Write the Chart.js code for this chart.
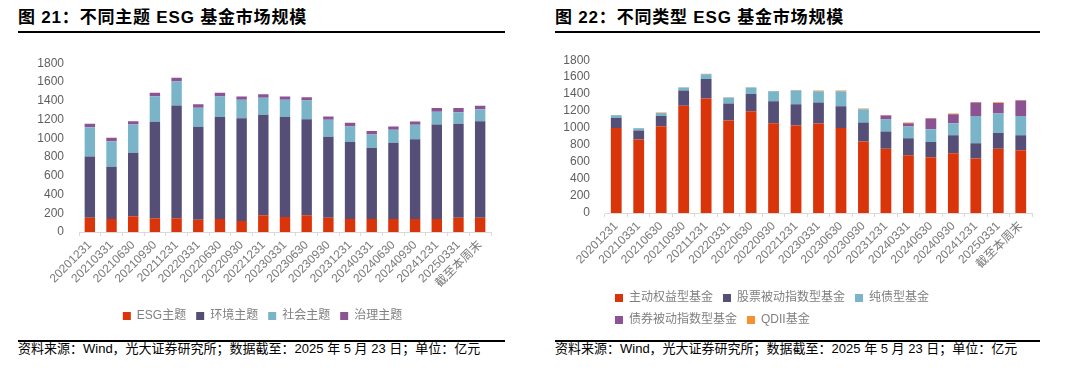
<!DOCTYPE html>
<html>
<head>
<meta charset="utf-8">
<script src="https://cdn.jsdelivr.net/npm/chart.js@4.4.1/dist/chart.umd.min.js"></script>
<style>
  body { margin: 0; width: 1080px; height: 371px; background: #fff; position: relative; overflow: hidden;
         font-family: 'Liberation Sans', 'Noto Sans CJK SC', sans-serif; }
  .title { position: absolute; top: 8px; font-size: 17px; font-weight: bold; line-height: 20px; color: #000; letter-spacing: 0.8px; white-space: nowrap; }
  .rule { position: absolute; background: #000; }
  .src { position: absolute; top: 342px; font-size: 13px; line-height: 14px; color: #000; white-space: nowrap; }
  .box { position: absolute; }
</style>
</head>
<body>

<div class="title" style="left:18px">图 21：不同主题 ESG 基金市场规模</div>
<div class="rule" style="left:18px; top:31px; width:487px; height:2px"></div>
<div class="title" style="left:555px">图 22：不同类型 ESG 基金市场规模</div>
<div class="rule" style="left:555px; top:31px; width:485px; height:2px"></div>

<div class="box" style="left:0; top:41px"><canvas id="themeChart" width="540" height="293"></canvas></div>
<div class="box" style="left:540px; top:38px"><canvas id="typeChart" width="540" height="300"></canvas></div>

<div class="rule" style="left:18px; top:340px; width:487px; height:2px"></div>
<div class="src" style="left:18px">资料来源：Wind，光大证券研究所；数据截至：2025 年 5 月 23 日；单位：亿元</div>
<div class="rule" style="left:555px; top:340px; width:485px; height:2px"></div>
<div class="src" style="left:555px">资料来源：Wind，光大证券研究所；数据截至：2025 年 5 月 23 日；单位：亿元</div>

<script>
// 日期
var periods = ['20201231', '20210331', '20210630', '20210930', '20211231', '20220331', '20220630',
  '20220930', '20221231', '20230331', '20230630', '20230930', '20231231', '20240331', '20240630',
  '20240930', '20241231', '20250331', '截至本周末'];

// 图21 不同主题 (亿元)
var esgTheme = [153, 138, 167, 146, 146, 131, 138, 117, 178, 160, 178, 153, 138, 138, 138, 138, 138, 153, 153];
var envTheme = [653, 558, 678, 1029, 1203, 991, 1087, 1097, 1072, 1068, 1025, 862, 821, 757, 813, 852, 1009, 1001, 1029];
var socialTheme = [312, 273, 302, 273, 256, 202, 220, 195, 181, 181, 199, 181, 166, 145, 139, 153, 135, 124, 128];
var govTheme = [36, 36, 35, 36, 39, 39, 39, 36, 39, 36, 36, 36, 39, 36, 35, 36, 39, 43, 35];

// 图22 不同类型 (亿元)
var activeEquity = [1002, 865, 1022, 1262, 1348, 1089, 1199, 1057, 1030, 1053, 1002, 841, 758, 680, 656, 703, 641, 758, 739];
var stockPassive = [118, 106, 122, 180, 232, 200, 204, 260, 251, 248, 256, 224, 201, 200, 181, 213, 180, 185, 177];
var pureBond = [31, 27, 35, 36, 55, 71, 75, 117, 161, 133, 176, 157, 141, 138, 149, 141, 323, 228, 228];
var bondPassive = [0, 0, 0, 0, 0, 0, 0, 0, 0, 0, 0, 0, 48, 39, 126, 106, 157, 126, 180];
var qdii = [4, 4, 4, 4, 4, 4, 4, 4, 8, 8, 8, 8, 7, 8, 8, 8, 8, 8, 8];

var yTicks = [0, 200, 400, 600, 800, 1000, 1200, 1400, 1600, 1800];

var RED = '#D9340A', NAVY = '#554F78', SKY = '#79B4C9', PLUM = '#8C5393', ORANGE = '#F5922F';

Chart.defaults.font.family = "'Liberation Sans', 'Noto Sans CJK SC', sans-serif";
Chart.defaults.font.size = 12;

function makeScales(yWidth, xHeight) {
  return {
    x: {
      stacked: true,
      grid: { display: true, drawOnChartArea: false, drawTicks: true, tickLength: 4, color: '#d9d9d9' },
      border: { display: true, color: '#d9d9d9', width: 1 },
      ticks: { autoSkip: false, minRotation: 45, maxRotation: 45, padding: 2, color: '#7a7a7a', font: { size: 12 } },
      afterFit: function (s) { s.height = xHeight; }
    },
    y: {
      stacked: true,
      min: 0,
      max: 1800,
      afterBuildTicks: function (s) { s.ticks = yTicks.map(function (v) { return { value: v }; }); },
      grid: { display: false, drawTicks: false },
      border: { display: false },
      ticks: { autoSkip: false, padding: 15, color: '#5f5f5f', font: { size: 12 },
               callback: function (v) { return String(v); } },
      afterFit: function (s) { s.width = yWidth; }
    }
  };
}

function bar(label, data, color) {
  return { label: label, data: data, backgroundColor: color, borderWidth: 0,
           categoryPercentage: 1, barPercentage: 0.48 };
}

new Chart(document.getElementById('themeChart'), {
  type: 'bar',
  data: {
    labels: periods,
    datasets: [
      bar('ESG主题', esgTheme, RED),
      bar('环境主题', envTheme, NAVY),
      bar('社会主题', socialTheme, SKY),
      bar('治理主题', govTheme, PLUM)
    ]
  },
  options: {
    responsive: false,
    animation: false,
    devicePixelRatio: 1,
    layout: { padding: { top: 0, right: 49, bottom: 2, left: 34 } },
    scales: makeScales(45, 68),
    plugins: {
      tooltip: { enabled: false },
      legend: {
        position: 'bottom',
        align: 'center',
        labels: { boxWidth: 8, boxHeight: 8, padding: 10, color: '#7f7f7f', font: { size: 12 } }
      }
    }
  }
});

new Chart(document.getElementById('typeChart'), {
  type: 'bar',
  data: {
    labels: periods,
    datasets: [
      bar('主动权益型基金', activeEquity, RED),
      bar('股票被动指数型基金', stockPassive, NAVY),
      bar('纯债型基金', pureBond, SKY),
      bar('债券被动指数型基金', bondPassive, PLUM),
      bar('QDII基金', qdii, ORANGE)
    ]
  },
  options: {
    responsive: false,
    animation: false,
    devicePixelRatio: 1,
    layout: { padding: { top: 0, right: 48, bottom: 2, left: 0 } },
    scales: makeScales(65, 69),
    plugins: {
      tooltip: { enabled: false },
      legend: {
        position: 'bottom',
        align: 'start',
        fullSize: false,
        labels: { boxWidth: 8, boxHeight: 8, padding: 10, color: '#7f7f7f', font: { size: 12 } }
      }
    }
  }
});
</script>
</body>
</html>
